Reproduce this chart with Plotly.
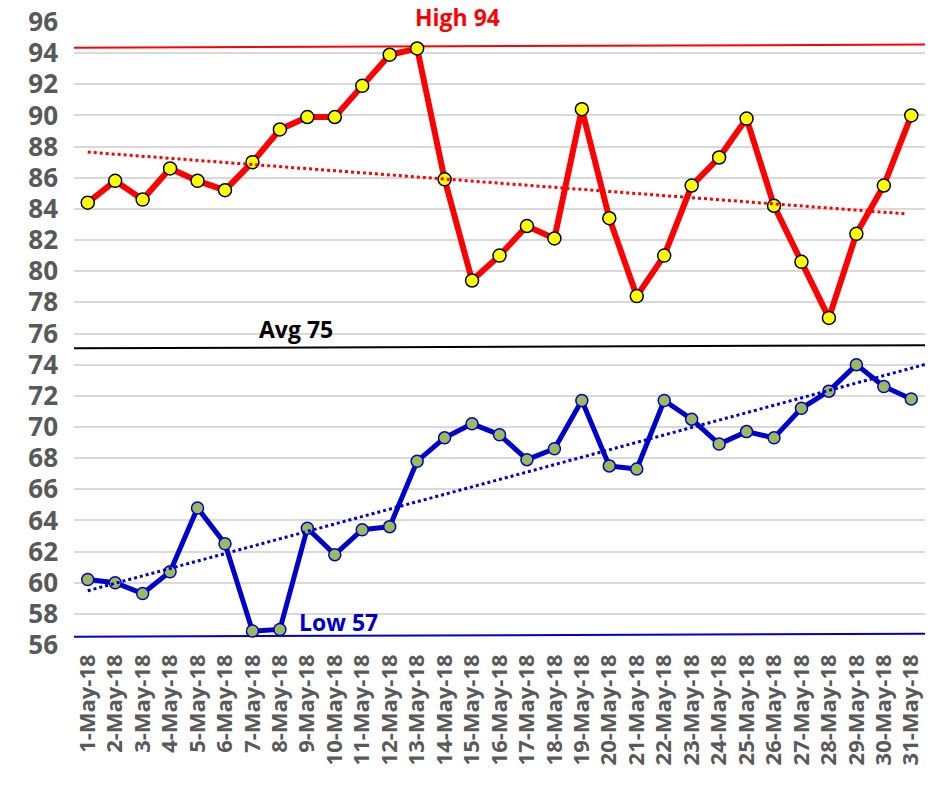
import numpy as np
import plotly.graph_objects as go

dates = ["1-May-18", "2-May-18", "3-May-18", "4-May-18", "5-May-18", "6-May-18",
         "7-May-18", "8-May-18", "9-May-18", "10-May-18", "11-May-18", "12-May-18",
         "13-May-18", "14-May-18", "15-May-18", "16-May-18", "17-May-18", "18-May-18",
         "19-May-18", "20-May-18", "21-May-18", "22-May-18", "23-May-18", "24-May-18",
         "25-May-18", "26-May-18", "27-May-18", "28-May-18", "29-May-18", "30-May-18",
         "31-May-18"]

high_temps = [84.4, 85.8, 84.6, 86.6, 85.8, 85.2, 87.0, 89.1, 89.9, 89.9, 91.9,
              93.9, 94.3, 85.9, 79.4, 81.0, 82.9, 82.1, 90.4, 83.4, 78.4, 81.0,
              85.5, 87.3, 89.8, 84.2, 80.6, 77.0, 82.4, 85.5, 90.0]

low_temps = [60.2, 60.0, 59.3, 60.7, 64.8, 62.5, 56.9, 57.0, 63.5, 61.8, 63.4,
             63.6, 67.8, 69.3, 70.2, 69.5, 67.9, 68.6, 71.7, 67.5, 67.3, 71.7,
             70.5, 68.9, 69.7, 69.3, 71.2, 72.3, 74.0, 72.6, 71.8]

# reference lines (left end, right end) as drawn
high_ref = [94.35, 94.55]
avg_ref = [75.05, 75.25]
low_ref = [56.53, 56.72]

y_ticks = [56, 58, 60, 62, 64, 66, 68, 70, 72, 74, 76, 78, 80, 82, 84, 86, 88, 90, 92, 94, 96]

idx = list(range(len(dates)))
ends = [-0.5, len(dates) - 0.5]

fig = go.Figure()

# Reference lines
fig.add_trace(go.Scatter(x=ends, y=high_ref, mode="lines",
                         line=dict(color="#FF0000", width=2), hoverinfo="skip"))
fig.add_trace(go.Scatter(x=ends, y=avg_ref, mode="lines",
                         line=dict(color="#000000", width=2), hoverinfo="skip"))
fig.add_trace(go.Scatter(x=ends, y=low_ref, mode="lines",
                         line=dict(color="#0000CC", width=2), hoverinfo="skip"))

# Series
fig.add_trace(go.Scatter(x=idx, y=high_temps, mode="lines+markers", name="High",
                         line=dict(color="#FF0000", width=6),
                         marker=dict(size=13, color="#FFFF00",
                                     line=dict(color="#000000", width=1.5))))
fig.add_trace(go.Scatter(x=idx, y=low_temps, mode="lines+markers", name="Low",
                         line=dict(color="#0000CC", width=5),
                         marker=dict(size=12, color="#9BBB59",
                                     line=dict(color="#0000CC", width=1.5))))

# Linear trendlines (least squares)
hs, hi = np.polyfit(idx, high_temps, 1)
ls, li = np.polyfit(idx, low_temps, 1)
tx_h = [0, len(dates) - 1.2]
tx_l = [0, len(dates) - 0.5]
fig.add_trace(go.Scatter(x=tx_h, y=[hs * v + hi for v in tx_h], mode="lines",
                         line=dict(color="#FF0000", width=3, dash="dot"), hoverinfo="skip"))
fig.add_trace(go.Scatter(x=tx_l, y=[ls * v + li for v in tx_l], mode="lines",
                         line=dict(color="#0000CC", width=3, dash="dot"), hoverinfo="skip"))

annos = [
    dict(text="High 94", x=13.47, y=1.008, color="#FF0000"),
    dict(text="Avg 75", x=7.57, y=0.507, color="#000000"),
    dict(text="Low 57", x=9.13, y=0.037, color="#0000CC"),
]
for a in annos:
    fig.add_annotation(x=a["x"], y=a["y"], xref="x", yref="paper", text=a["text"],
                       showarrow=False, xanchor="center", yanchor="middle",
                       font=dict(family="Open Sans", size=23, color=a["color"], weight="bold"))

fig.update_layout(
    width=932, height=787,
    margin=dict(l=74, r=7, t=22, b=142, autoexpand=False),
    paper_bgcolor="white", plot_bgcolor="white",
    showlegend=False,
    font=dict(family="Open Sans"),
)
fig.update_xaxes(range=ends, tickmode="array", tickvals=idx, ticktext=dates,
                 tickangle=-90, showgrid=False, zeroline=False, showline=False,
                 tickfont=dict(family="Open Sans", size=22, color="#595959", weight="bold"),
                 ticks="", ticklabelstandoff=4, automargin=False,
                 ticklabeloverflow="allow")
fig.update_yaxes(range=[56, 96], tickmode="array", tickvals=y_ticks,
                 showgrid=True, gridcolor="#D9D9D9", gridwidth=2,
                 zeroline=False, showline=False, ticks="",
                 tickfont=dict(family="Open Sans", size=26, color="#595959", weight="bold"),
                 ticklabelstandoff=15, automargin=False, ticklabeloverflow="allow")

fig.write_html("out.html", config={"displayModeBar": False},
               post_script="document.body.style.margin='0';document.body.style.overflow='hidden';")
